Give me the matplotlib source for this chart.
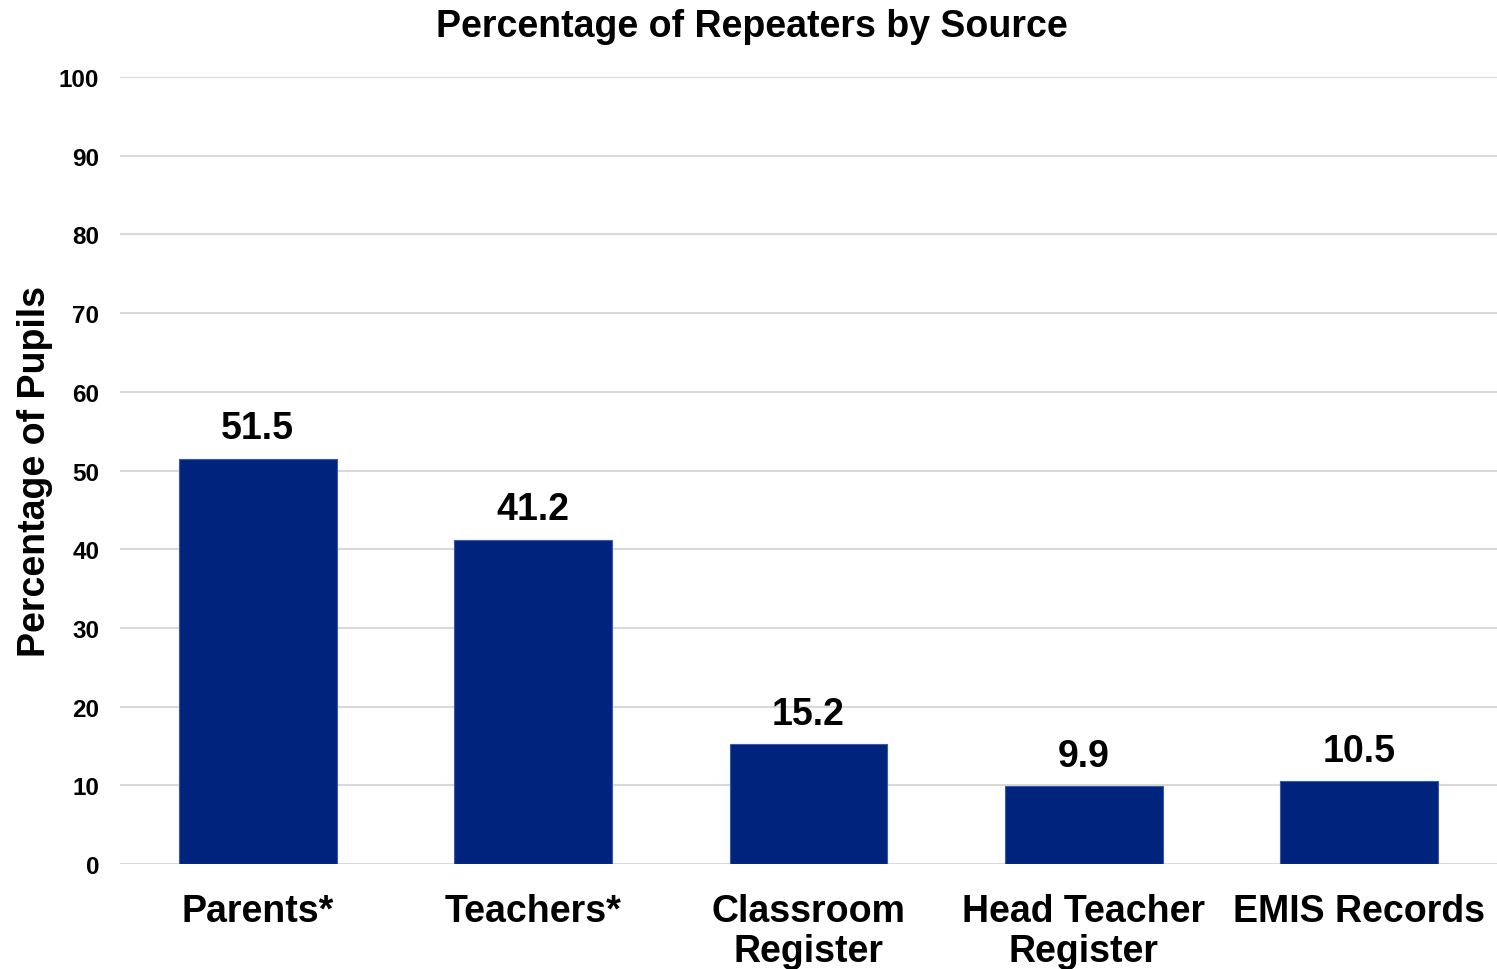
import matplotlib
matplotlib.use('Agg')
import matplotlib.pyplot as plt
import numpy as np

plt.rcParams['font.family'] = ['Liberation Sans', 'DejaVu Sans']
plt.rcParams['font.weight'] = 'bold'

# Repeaters by data source
sources = ['Parents*', 'Teachers*', 'Classroom\nRegister', 'Head Teacher\nRegister', 'EMIS Records']
percent = [51.5, 41.2, 15.2, 9.9, 10.5]
yticks = [0, 10, 20, 30, 40, 50, 60, 70, 80, 90, 100]

fig = plt.figure(figsize=(14.97, 9.70), dpi=100)
ax = fig.add_axes([0.0802, 0.1082, 0.9198, 0.8114])

x = np.arange(len(sources))
bars = ax.bar(x, percent, width=0.573, color='#00247D', edgecolor='#3A5BAA',
              linewidth=0.8, zorder=3)

for xi, v in zip(x, percent):
    ax.annotate(f'{v}', (xi, v), xytext=(0, 9), textcoords='offset points',
                ha='center', va='bottom', fontsize=27, fontweight='bold')

ax.set_xlim(-0.5, 4.5)
ax.set_ylim(0, 100)
ax.set_yticks(yticks)
ax.set_xticks(x)
ax.set_xticklabels(sources, fontsize=27, fontweight='bold', linespacing=1.12)
ax.tick_params(axis='y', labelsize=17.5, length=0, pad=15)
ax.tick_params(axis='x', length=0, pad=21)
for lbl in ax.get_yticklabels():
    lbl.set_fontweight('bold')

ax.grid(axis='y', color='#D9D9D9', linewidth=1.5, zorder=0)
ax.set_axisbelow(True)
for s in ax.spines.values():
    s.set_visible(False)

ax.set_ylabel('Percentage of Pupils', fontsize=27, fontweight='bold')
ax.yaxis.set_label_coords(-0.0484, 0.5)
fig.text(0.502, 1 - 37 / 970, 'Percentage of Repeaters by Source',
         ha='center', va='baseline', fontsize=27, fontweight='bold')

fig.savefig('out.png', dpi=100)
